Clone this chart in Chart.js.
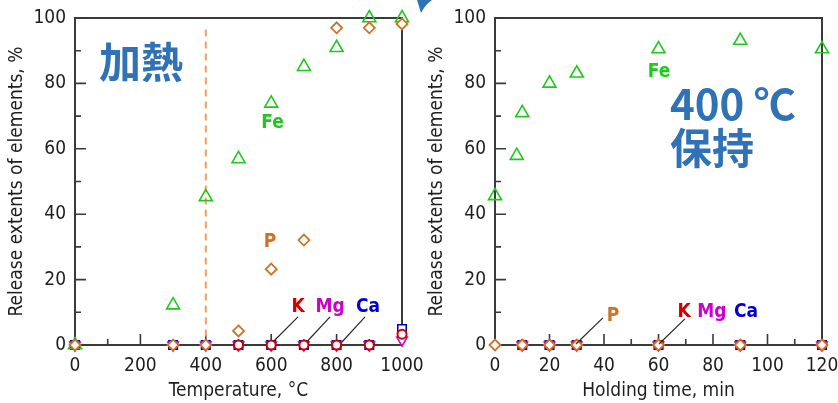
<!DOCTYPE html>
<html>
<head>
<meta charset="utf-8">
<script src="https://cdn.jsdelivr.net/npm/chart.js@4/dist/chart.umd.min.js"></script>
<style>
  html, body { margin: 0; padding: 0; background: #ffffff; }
  #wrap { position: relative; width: 838px; height: 403px; }
  #wrap canvas { position: absolute; left: 0; top: 0; }
</style>
</head>
<body>
<div id="wrap">
  <canvas id="heat" width="838" height="403"></canvas>
  <canvas id="hold" width="838" height="403"></canvas>
</div>
<script>
// ---- Heating series: release extent (%) against temperature (°C) ----
const temperature = [0, 300, 400, 500, 600, 700, 800, 900, 1000];
const heatFe = [0, 12.2, 45.3, 56.9, 73.9, 85.1, 90.9, 100, 100];
const heatP  = [0, 0, 0, 4.3, 23.2, 32.1, 97.0, 97.0, 98.2];
const heatK  = [null, null, null, 0, 0, 0, 0, 0, 3.3];
const heatMg = [0, 0, 0, 0, 0, 0, 0, 0, 1.5];
const heatCa = [0, 0, 0, 0, 0, 0, 0, 0, 4.9];

// ---- Holding at 400 °C: release extent (%) against holding time (min) ----
const holdTime = [0, 8, 10, 20, 30, 60, 90, 120];
const holdFe = [45.6, 57.9, 71.0, 80.0, 83.1, 90.5, 93.1, 90.5];
const holdP  = [0, null, 0, 0, 0, 0, 0, 0];
const holdK  = [null, null, 0, 0, 0, 0, 0, 0];
const holdMg = [null, null, 0, 0, 0, 0, 0, 0];
const holdCa = [null, null, 0, 0, 0, 0, 0, 0];

// ---- Axis ticks ----
const yTicks      = [0, 20, 40, 60, 80, 100];
const yMinor      = [10, 30, 50, 70, 90];
const heatXTicks  = [0, 200, 400, 600, 800, 1000];
const heatXMinor  = [100, 300, 500, 700, 900];
const holdXTicks  = [0, 20, 40, 60, 80, 100, 120];
const holdXMinor  = [10, 30, 50, 70, 90, 110];

// ---- Texts ----
const yTitle = 'Release extents of elements, %';
const heatXTitle = 'Temperature, °C';
const holdXTitle = 'Holding time, min';
const heatingMark = 400;   // dashed marker on the temperature axis

const COL = {
  Fe: '#1ec81e', P: '#cf7226', K: '#d00000', Mg: '#cc00cc', Ca: '#0000cc',
  axis: '#3a3a3a', text: '#1e1e1e', note: '#2f72b6', dash: '#f4a05a'
};
const TICK_FONT = { family: '"DejaVu Sans Condensed", "DejaVu Sans"', size: 19 };

function pairs(xs, ys) {
  const out = [];
  xs.forEach((x, i) => { if (ys[i] !== null && ys[i] !== undefined) out.push({ x, y: ys[i] }); });
  return out;
}

// datasets listed top-most first (Chart.js paints index 0 last)
function seriesSet(xs, s) {
  const base = { showLine: false, clip: false, pointHoverRadius: 0 };
  return [
    Object.assign({ label: 'P',  data: pairs(xs, s.P),  pointStyle: 'rectRot',  pointRadius: 5.5, borderWidth: 1.8, borderColor: COL.P,  backgroundColor: '#ffffff' }, base),
    Object.assign({ label: 'K',  data: pairs(xs, s.K),  pointStyle: 'circle',   pointRadius: 4.5, borderWidth: 2,   borderColor: COL.K,  backgroundColor: '#ffffff' }, base),
    Object.assign({ label: 'Fe', data: pairs(xs, s.Fe), pointStyle: 'triangle', pointRadius: 7.5, borderWidth: 1.6, borderColor: COL.Fe, backgroundColor: 'rgba(255,255,255,0)' }, base),
    Object.assign({ label: 'Mg', data: pairs(xs, s.Mg), pointStyle: 'triangle', rotation: 180, pointRadius: 6, borderWidth: 1.6, borderColor: COL.Mg, backgroundColor: '#ffffff' }, base),
    Object.assign({ label: 'Ca', data: pairs(xs, s.Ca), pointStyle: 'rect',     pointRadius: 6,   borderWidth: 1.6, borderColor: COL.Ca, backgroundColor: '#ffffff' }, base)
  ];
}

// frame, inward tick marks, dashed marker, callouts and labels
function decorPlugin(p) {
  return {
    id: 'decor',
    beforeDatasetsDraw(chart) {
      const { ctx, chartArea: a, scales: { x, y } } = chart;
      ctx.save();
      ctx.strokeStyle = COL.axis;
      ctx.lineWidth = 2;
      ctx.strokeRect(a.left, a.top, a.right - a.left, a.bottom - a.top);
      ctx.lineWidth = 1.6;
      ctx.beginPath();
      p.xMajor.forEach(v => { const px = x.getPixelForValue(v); ctx.moveTo(px, a.bottom); ctx.lineTo(px, a.bottom - 11); });
      p.xMinor.forEach(v => { const px = x.getPixelForValue(v); ctx.moveTo(px, a.bottom); ctx.lineTo(px, a.bottom - 6); });
      yTicks.forEach(v => { const py = y.getPixelForValue(v); ctx.moveTo(a.left, py); ctx.lineTo(a.left + 11, py); });
      yMinor.forEach(v => { const py = y.getPixelForValue(v); ctx.moveTo(a.left, py); ctx.lineTo(a.left + 6, py); });
      ctx.stroke();
      if (p.dashAt !== undefined) {
        const px = x.getPixelForValue(p.dashAt);
        ctx.strokeStyle = COL.dash;
        ctx.lineWidth = 2;
        ctx.setLineDash([7, 5]);
        ctx.beginPath();
        ctx.moveTo(px, y.getPixelForValue(96.5));
        ctx.lineTo(px, a.bottom + 8);
        ctx.stroke();
        ctx.setLineDash([]);
      }
      ctx.restore();
    },
    afterDatasetsDraw(chart) {
      const { ctx, scales: { x, y } } = chart;
      ctx.save();
      ctx.strokeStyle = '#2a2a2a';
      ctx.lineWidth = 1.2;
      ctx.beginPath();
      p.leaders.forEach(l => {
        ctx.moveTo(x.getPixelForValue(l[0]), y.getPixelForValue(l[1]));
        ctx.lineTo(x.getPixelForValue(l[2]), y.getPixelForValue(l[3]));
      });
      ctx.stroke();
      ctx.textBaseline = 'middle';
      p.labels.forEach(t => {
        ctx.fillStyle = t.color;
        ctx.font = t.font;
        ctx.textAlign = t.align || 'center';
        ctx.fillText(t.text, x.getPixelForValue(t.x), y.getPixelForValue(t.y));
      });
      if (p.extra) p.extra(ctx);
      ctx.restore();
    }
  };
}

function buildChart(id, cfg) {
  return new Chart(document.getElementById(id), {
    type: 'scatter',
    data: { datasets: cfg.datasets },
    options: {
      responsive: false,
      animation: false,
      events: [],
      layout: { padding: cfg.padding },
      plugins: { legend: { display: false }, tooltip: { enabled: false } },
      scales: {
        x: {
          type: 'linear', min: cfg.xMin, max: cfg.xMax,
          grid: { display: false, drawTicks: false }, border: { display: false },
          ticks: { padding: 10, color: COL.text, font: TICK_FONT, maxRotation: 0, autoSkip: false, callback: v => String(v) },
          title: { display: true, text: cfg.xTitle, color: COL.text, font: TICK_FONT, padding: { top: 0, bottom: 1 } },
          afterBuildTicks: s => { s.ticks = cfg.xMajor.map(v => ({ value: v })); },
          afterFit: s => { s.height = 58; s.paddingLeft = 0; s.paddingRight = 0; }
        },
        y: {
          type: 'linear', min: 0, max: 100,
          grid: { display: false, drawTicks: false }, border: { display: false },
          ticks: { padding: 9, color: COL.text, font: TICK_FONT, callback: v => String(v) },
          title: { display: true, text: yTitle, color: COL.text, font: TICK_FONT, padding: { top: 6, bottom: 0 } },
          afterBuildTicks: s => { s.ticks = yTicks.map(v => ({ value: v })); },
          afterFit: s => { s.width = 75; s.paddingTop = 0; s.paddingBottom = 0; }
        }
      }
    },
    plugins: [decorPlugin(cfg)]
  });
}

const LABEL_FONT = 'bold 19px "DejaVu Sans Condensed", "DejaVu Sans"';
const NOTE_FONT = 'bold 42px "Noto Sans CJK JP"';

buildChart('heat', {
  datasets: seriesSet(temperature, { Fe: heatFe, P: heatP, K: heatK, Mg: heatMg, Ca: heatCa }),
  padding: { left: 0, top: 18, right: 436, bottom: 0 },
  xMin: 0, xMax: 1000, xTitle: heatXTitle,
  xMajor: heatXTicks, xMinor: heatXMinor,
  dashAt: heatingMark,
  leaders: [[682, 8.6, 606, 1.0], [780, 8.6, 709, 1.0], [887, 8.6, 817, 1.0]],
  labels: [
    { text: '加熱', x: 202, y: 86.5, color: COL.note, font: NOTE_FONT },
    { text: 'Fe', x: 604, y: 68, color: COL.Fe, font: LABEL_FONT },
    { text: 'P',  x: 596, y: 31.5, color: COL.P, font: LABEL_FONT },
    { text: 'K',  x: 682, y: 11.6, color: COL.K, font: LABEL_FONT },
    { text: 'Mg', x: 780, y: 11.6, color: COL.Mg, font: LABEL_FONT },
    { text: 'Ca', x: 896, y: 11.6, color: COL.Ca, font: LABEL_FONT }
  ]
});

buildChart('hold', {
  datasets: seriesSet(holdTime, { Fe: holdFe, P: holdP, K: holdK, Mg: holdMg, Ca: holdCa }),
  padding: { left: 420, top: 18, right: 16, bottom: 0 },
  xMin: 0, xMax: 120, xTitle: holdXTitle,
  xMajor: holdXTicks, xMinor: holdXMinor,
  leaders: [[39.6, 8.3, 29.7, 0.3], [69.7, 8.0, 60.2, 0.3]],
  labels: [
    { text: 'Fe', x: 60.2, y: 83.5, color: COL.Fe, font: LABEL_FONT },
    { text: '400 ℃', x: 64.2, y: 73.7, color: COL.note, font: NOTE_FONT, align: 'left' },
    { text: '保持', x: 64.2, y: 60.2, color: COL.note, font: NOTE_FONT, align: 'left' },
    { text: 'P',  x: 43.3, y: 8.9, color: COL.P, font: LABEL_FONT },
    { text: 'K',  x: 69.4, y: 10.1, color: COL.K, font: LABEL_FONT },
    { text: 'Mg', x: 79.6, y: 10.1, color: COL.Mg, font: LABEL_FONT },
    { text: 'Ca', x: 92.1, y: 10.1, color: COL.Ca, font: LABEL_FONT }
  ],
  // tail of the blue arrow running between the two panels
  extra: ctx => {
    ctx.fillStyle = COL.note;
    ctx.beginPath();
    ctx.moveTo(417, 0);
    ctx.lineTo(432, 0);
    ctx.quadraticCurveTo(425, 5, 421, 13);
    ctx.quadraticCurveTo(419, 6, 417, 0);
    ctx.fill();
  }
});
</script>
</body>
</html>
